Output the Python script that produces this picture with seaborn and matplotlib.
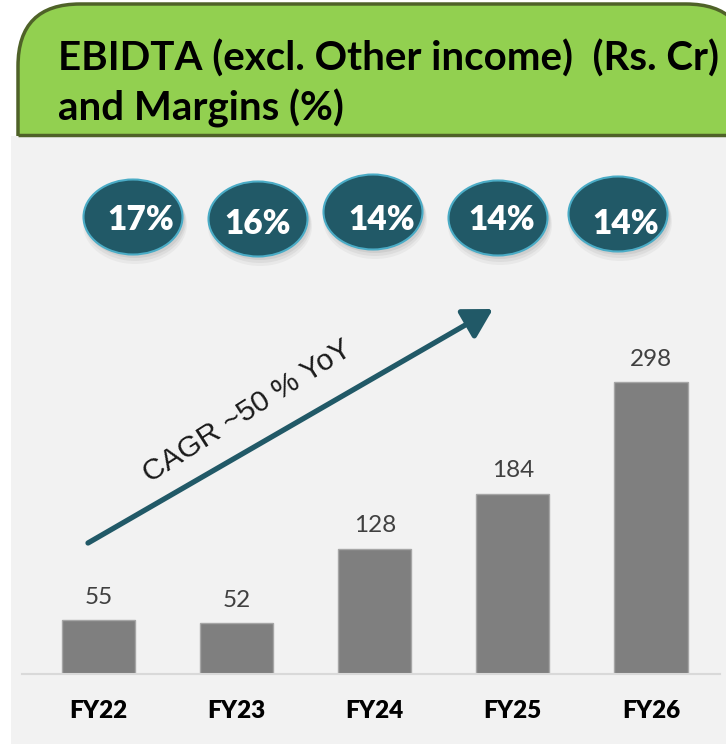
import pandas as pd
import seaborn as sns
import matplotlib.pyplot as plt
from matplotlib.patches import Ellipse, FancyBboxPatch, Rectangle

# === Data ===
years = ["FY22", "FY23", "FY24", "FY25", "FY26"]
ebitda = [55, 52, 128, 184, 298]
margins = [17, 16, 14, 14, 14]
cagr_label = "CAGR ~50 % YoY"
title_lines = ["EBIDTA (excl. Other income)  (Rs. Cr)", "and Margins (%)"]

# === Layout (pixels) ===
W, H = 726, 744
BASE_PX, TOP_PX = 674, 300
PX_PER_UNIT = 0.979
ell_x = [133, 258, 373, 498, 618]
ell_y = [217, 219, 212, 218, 214]
txt_x = [141, 258, 382, 502, 626]
txt_base = [230, 234, 230, 230, 234]

GREEN = "#92d050"
GREEN_EDGE = "#4f6228"
TEAL = "#215967"
PANEL = "#f2f2f2"

sns.set_style("white")
plt.rcParams["font.family"] = ["Lato", "DejaVu Sans"]

fig = plt.figure(figsize=(W / 100, H / 100), dpi=100)
fig.patch.set_facecolor("white")

# background layer in pixel coordinates
bg = fig.add_axes([0, 0, 1, 1])
bg.set_xlim(0, W)
bg.set_ylim(H, 0)
bg.axis("off")

bg.add_patch(FancyBboxPatch((18, 4), 748 - 18, 220,
                            boxstyle="round,pad=0,rounding_size=62",
                            fc=GREEN, ec=GREEN_EDGE, lw=2.5))
bg.add_patch(Rectangle((11, 136), 740, 640, fc=PANEL, ec="none"))
bg.plot([18, W + 5], [134.5, 134.5], color=GREEN_EDGE, lw=2.5, solid_capstyle="butt")

bg.text(58, 71, title_lines[0], fontsize=29, fontweight="bold", va="baseline", color="black")
bg.text(58, 120, title_lines[1], fontsize=29, fontweight="bold", va="baseline", color="black")

# margin bubbles
for i, m in enumerate(margins):
    for k, a in enumerate([0.10, 0.08, 0.06]):
        bg.add_patch(Ellipse((ell_x[i] + 2, ell_y[i] + 3 + 2 * k), 100 + 2 * k, 76 + 2 * k,
                             fc="#555555", ec="none", alpha=a))
    bg.add_patch(Ellipse((ell_x[i], ell_y[i]), 99, 75, fc=TEAL, ec="#4bacc6", lw=1.5))
    bg.text(txt_x[i], txt_base[i], f"{m}%", fontsize=24, fontweight="heavy",
            color="white", ha="center", va="baseline")

# growth arrow
bg.annotate("", xy=(493, 309), xytext=(88, 543),
            arrowprops=dict(arrowstyle="-|>,head_length=0.7,head_width=0.4",
                            lw=3.8, color=TEAL, mutation_scale=25,
                            shrinkA=0, shrinkB=0))
bg.text(247, 411, cagr_label, rotation=32.5, rotation_mode="anchor",
        ha="center", va="center", fontsize=21.5, family="Liberation Sans", color="#1a1a1a")

# bars
ax = fig.add_axes([22 / W, (H - BASE_PX) / H, 698 / W, (BASE_PX - TOP_PX) / H])
df = pd.DataFrame({"year": years, "ebitda": ebitda})
sns.barplot(data=df, x="year", y="ebitda", color="#7f7f7f", saturation=1,
            width=0.53, edgecolor="#a6a6a6", linewidth=1, ax=ax)
ax.set_xlim(-0.554, 4.5)
ax.set_ylim(0, (BASE_PX - TOP_PX) / PX_PER_UNIT)
ax.set_facecolor("none")
ax.bar_label(ax.containers[0], padding=9, fontsize=17.5, color="#404040")

for side in ["top", "left", "right"]:
    ax.spines[side].set_visible(False)
ax.spines["bottom"].set_color("#d9d9d9")
ax.spines["bottom"].set_linewidth(1.5)
ax.set_yticks([])
ax.set_xlabel("")
ax.set_ylabel("")
ax.tick_params(axis="x", length=0, pad=19, labelsize=17.5)
for lbl in ax.get_xticklabels():
    lbl.set_fontweight("heavy")
    lbl.set_color("black")

plt.savefig("out.png", dpi=100)
plt.close()
